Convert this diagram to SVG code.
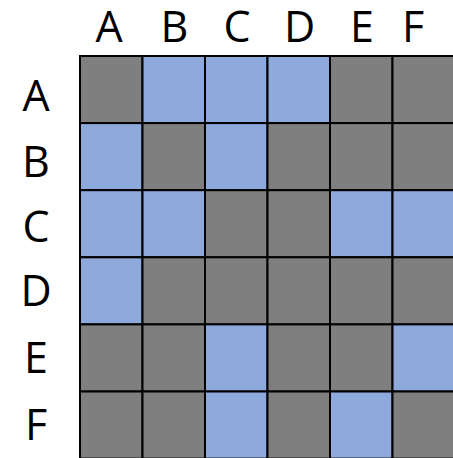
<svg xmlns="http://www.w3.org/2000/svg" width="453" height="458" viewBox="0 0 453 458">
<style>
.g{fill:#7f7f7f;stroke:#000;stroke-width:2}
.b{fill:#8ea9db;stroke:#000;stroke-width:2}
text{font-family:"Open Sans","Noto Sans",sans-serif;font-size:43px;fill:#000;text-anchor:middle}
</style>
<rect width="453" height="458" fill="#fff"/>
<g id="col-labels">
<text x="109" y="41.5">A</text>
<text x="174.5" y="41.5">B</text>
<text x="237" y="41.5">C</text>
<text x="299.5" y="41.5">D</text>
<text x="362" y="41.5">E</text>
<text x="413" y="41.5">F</text>
</g>
<g id="row-labels">
<text x="36" y="110.7">A</text>
<text x="36" y="176.7">B</text>
<text x="36" y="242">C</text>
<text x="36" y="306">D</text>
<text x="36" y="372.7">E</text>
<text x="36" y="440">F</text>
</g>
<g id="grid">
<g id="row-A">
<rect class="g" x="80" y="56" width="62.5" height="67.1"/>
<rect class="b" x="142.5" y="56" width="62.5" height="67.1"/>
<rect class="b" x="205" y="56" width="62.5" height="67.1"/>
<rect class="b" x="267.5" y="56" width="62.5" height="67.1"/>
<rect class="g" x="330" y="56" width="62.5" height="67.1"/>
<rect class="g" x="392.5" y="56" width="62.5" height="67.1"/>
</g>
<g id="row-B">
<rect class="b" x="80" y="123.1" width="62.5" height="67.1"/>
<rect class="g" x="142.5" y="123.1" width="62.5" height="67.1"/>
<rect class="b" x="205" y="123.1" width="62.5" height="67.1"/>
<rect class="g" x="267.5" y="123.1" width="62.5" height="67.1"/>
<rect class="g" x="330" y="123.1" width="62.5" height="67.1"/>
<rect class="g" x="392.5" y="123.1" width="62.5" height="67.1"/>
</g>
<g id="row-C">
<rect class="b" x="80" y="190.2" width="62.5" height="67.1"/>
<rect class="b" x="142.5" y="190.2" width="62.5" height="67.1"/>
<rect class="g" x="205" y="190.2" width="62.5" height="67.1"/>
<rect class="g" x="267.5" y="190.2" width="62.5" height="67.1"/>
<rect class="b" x="330" y="190.2" width="62.5" height="67.1"/>
<rect class="b" x="392.5" y="190.2" width="62.5" height="67.1"/>
</g>
<g id="row-D">
<rect class="b" x="80" y="257.3" width="62.5" height="67.1"/>
<rect class="g" x="142.5" y="257.3" width="62.5" height="67.1"/>
<rect class="g" x="205" y="257.3" width="62.5" height="67.1"/>
<rect class="g" x="267.5" y="257.3" width="62.5" height="67.1"/>
<rect class="g" x="330" y="257.3" width="62.5" height="67.1"/>
<rect class="g" x="392.5" y="257.3" width="62.5" height="67.1"/>
</g>
<g id="row-E">
<rect class="g" x="80" y="324.4" width="62.5" height="67.1"/>
<rect class="g" x="142.5" y="324.4" width="62.5" height="67.1"/>
<rect class="b" x="205" y="324.4" width="62.5" height="67.1"/>
<rect class="g" x="267.5" y="324.4" width="62.5" height="67.1"/>
<rect class="g" x="330" y="324.4" width="62.5" height="67.1"/>
<rect class="b" x="392.5" y="324.4" width="62.5" height="67.1"/>
</g>
<g id="row-F">
<rect class="g" x="80" y="391.5" width="62.5" height="67.1"/>
<rect class="g" x="142.5" y="391.5" width="62.5" height="67.1"/>
<rect class="b" x="205" y="391.5" width="62.5" height="67.1"/>
<rect class="g" x="267.5" y="391.5" width="62.5" height="67.1"/>
<rect class="b" x="330" y="391.5" width="62.5" height="67.1"/>
<rect class="g" x="392.5" y="391.5" width="62.5" height="67.1"/>
</g>
</g>
</svg>
